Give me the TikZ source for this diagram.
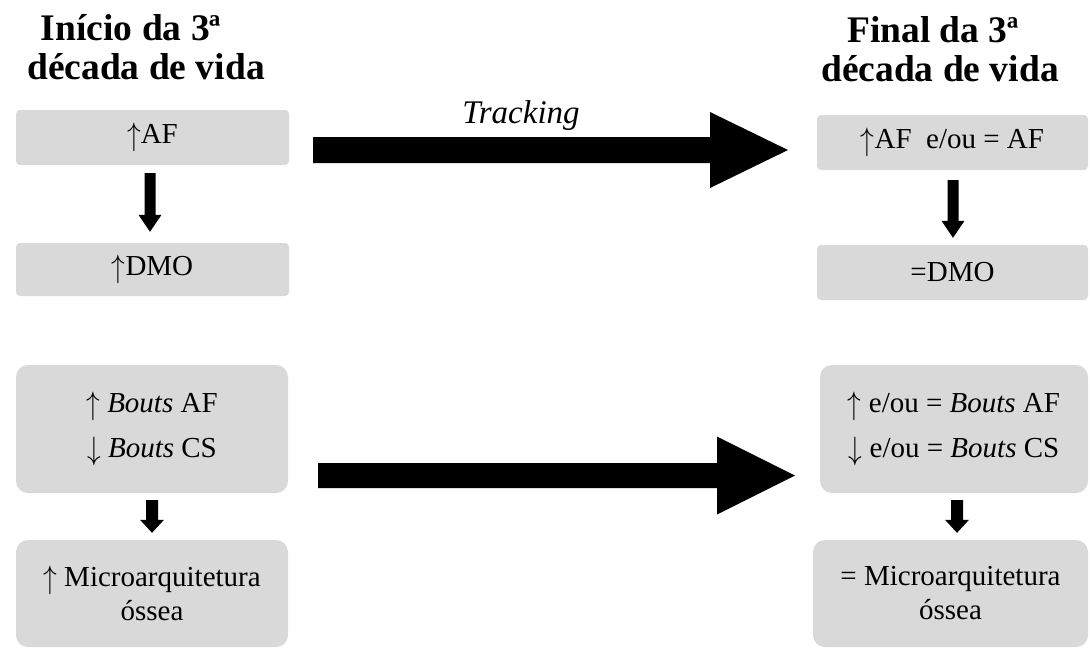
\documentclass[tikz,border=0pt]{standalone}
\usepackage{fontspec}
\usepackage{graphicx}
\setmainfont{Liberation Serif}
\usetikzlibrary{calc}
\definecolor{boxgray}{HTML}{D9D9D9}
\newcommand{\vblockarrow}[5]{% from, tip, shaft half, head half, head length
  \fill let \p1=(#1), \p2=(#2) in
    (\x1-#3,\y1) -- (\x1+#3,\y1) -- (\x1+#3,\y2+#5) -- (\x1+#4,\y2+#5) -- (\x1,\y2)
    -- (\x1-#4,\y2+#5) -- (\x1-#3,\y2+#5) -- cycle;}
\newcommand{\hblockarrow}[5]{% from, tip, shaft half, head half, head length
  \fill let \p1=(#1), \p2=(#2) in
    (\x1,\y1+#3) -- (\x2-#5,\y1+#3) -- (\x2-#5,\y1+#4) -- (\x2,\y1) -- (\x2-#5,\y1-#4)
    -- (\x2-#5,\y1-#3) -- (\x1,\y1-#3) -- cycle;}
\newcommand{\up}{\raisebox{-2pt}{\scalebox{1.1}[1.3]{$\uparrow$}}}
\newcommand{\dn}{\raisebox{-2pt}{\scalebox{1.1}[1.3]{$\downarrow$}}}
\begin{document}
\begin{tikzpicture}[x=1pt,y=-1pt,
  smallbox/.style={fill=boxgray, draw=none, rounded corners=4pt, inner sep=0pt, align=center,
    font=\fontsize{29}{34}\selectfont},
  bigbox/.style={smallbox, rounded corners=12pt},
  twoline/.style={font=\fontsize{29}{45}\selectfont},
  titletext/.style={anchor=base, inner sep=0pt, font=\fontsize{37.5}{45}\selectfont\bfseries},
  tracklabel/.style={anchor=base, inner sep=0pt, font=\fontsize{33}{38}\selectfont\itshape}]
\useasboundingbox (0,0) rectangle (1090,649);

% titles
\node[titletext] (t1a) at (131,40) {Início da 3ª};
\node[titletext] (t1b) at (146,79) {década de vida};
\node[titletext] (t2a) at (933,42) {Final da 3ª};
\node[titletext] (t2b) at (940,81) {década de vida};

% boxes
\node[smallbox, minimum width=273pt, minimum height=55pt] (b1) at (152.5,137.5) {\up AF};
\node[smallbox, minimum width=273pt, minimum height=53pt] (b2) at (152.5,269.5) {\raisebox{-3pt}{\up DMO}};
\node[smallbox, minimum width=271pt, minimum height=55pt] (b3) at (952.5,142.5) {\up AF\ \ e/ou = AF};
\node[smallbox, minimum width=271pt, minimum height=55pt] (b4) at (952.5,272.5) {\raisebox{-2pt}{=DMO}};
\node[bigbox, twoline, minimum width=272pt, minimum height=128pt] (b5) at (152,429)
  {\up\ \textit{Bouts} AF\\ \dn\ \textit{Bouts} CS};
\node[bigbox, minimum width=272pt, minimum height=107pt] (b6) at (152,593.5)
  {\up\ Microarquitetura\\ óssea};
\node[bigbox, twoline, minimum width=268pt, minimum height=128pt] (b7) at (954,429)
  {\up\ e/ou = \textit{Bouts} AF\\ \dn\ e/ou = \textit{Bouts} CS};
\node[bigbox, minimum width=275pt, minimum height=107pt] (b8) at (950.5,593.5)
  {= Microarquitetura\\ óssea};

% small vertical arrows
\coordinate (a1s) at ($(b1.south)+(-2.5,8)$);
\coordinate (a1e) at ($(b2.north)+(-2.5,-11)$);
\vblockarrow{a1s}{a1e}{5.5}{11.5}{17}
\coordinate (a2s) at ($(b3.south)+(0.5,10)$);
\coordinate (a2e) at ($(b4.north)+(0.5,-7)$);
\vblockarrow{a2s}{a2e}{5.5}{11.5}{17}
\coordinate (a3s) at ($(b5.south)+(0,7)$);
\coordinate (a3e) at ($(b6.north)+(0,-7)$);
\vblockarrow{a3s}{a3e}{6}{12}{13}
\coordinate (a4s) at ($(b7.south)+(3,7)$);
\coordinate (a4e) at ($(b8.north)+(6.5,-7)$);
\vblockarrow{a4s}{a4e}{6}{12}{13}

% big horizontal arrows
\coordinate (h1s) at (313,150);
\coordinate (h1e) at (788,150);
\hblockarrow{h1s}{h1e}{13}{38}{78}
\node[tracklabel] (track) at (521,123) {Tracking};
\coordinate (h2s) at (318,475.5);
\coordinate (h2e) at (795,475.5);
\hblockarrow{h2s}{h2e}{12.5}{39}{78}
\end{tikzpicture}
\end{document}
